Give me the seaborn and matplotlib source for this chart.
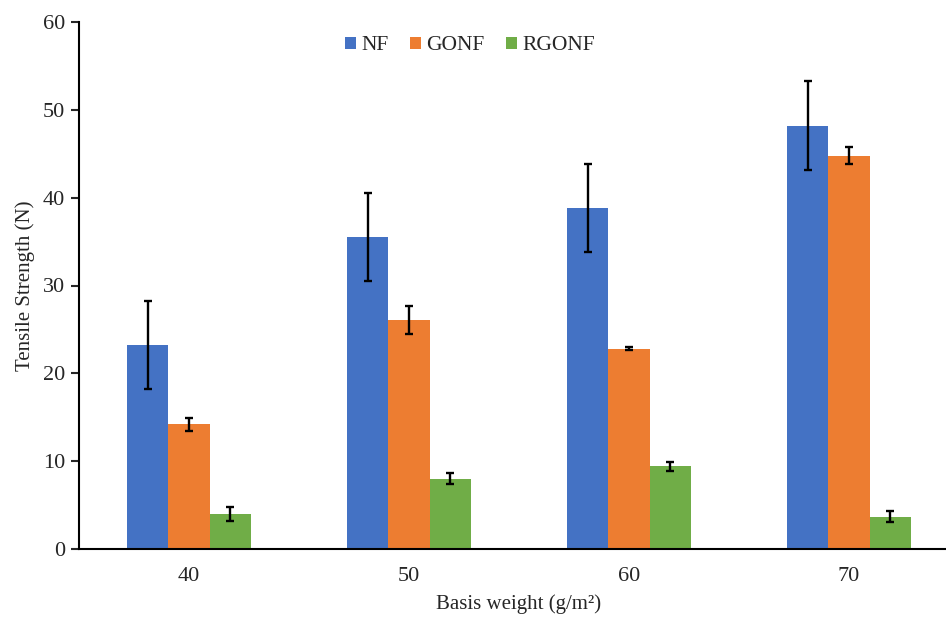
import numpy as np
import pandas as pd
import matplotlib.pyplot as plt
import seaborn as sns

# values
basis_weights = ['40', '50', '60', '70']
series_names = ['NF', 'GONF', 'RGONF']
nf_mean = [23.2, 35.5, 38.8, 48.2]
gonf_mean = [14.2, 26.1, 22.8, 44.8]
rgonf_mean = [4.0, 8.0, 9.4, 3.7]
nf_err = [5.0, 5.0, 5.0, 5.1]
gonf_err = [0.75, 1.6, 0.2, 1.0]
rgonf_err = [0.8, 0.6, 0.5, 0.65]

colors = ['#4472C4', '#ED7D31', '#70AD47']

sns.set_theme(style='white')
plt.rcParams['font.family'] = ['Liberation Serif', 'DejaVu Serif']

df = pd.DataFrame({
    'weight': basis_weights * 3,
    'series': [s for s in series_names for _ in basis_weights],
    'value': nf_mean + gonf_mean + rgonf_mean,
    'err': nf_err + gonf_err + rgonf_err,
})

fig = plt.figure(figsize=(9.46, 6.17), dpi=100)
ax = fig.add_axes([79 / 946, 68 / 617, 880 / 946, 527 / 617])

sns.barplot(data=df, x='weight', y='value', hue='series', order=basis_weights,
            hue_order=series_names, palette=colors, width=0.5625, gap=0,
            errorbar=None, saturation=1, linewidth=0, ax=ax, legend=True)

# error bars at the centres of the drawn bars
bars = [p for p in ax.patches if p.get_height() > 0][:len(df)]
xs = [b.get_x() + b.get_width() / 2 for b in bars]
hs = [b.get_height() for b in bars]
ax.errorbar(xs, hs, yerr=df['err'].to_numpy(), fmt='none', ecolor='black',
            elinewidth=1.7, capsize=3.2, capthick=1.7)

ax.set_ylim(0, 60)
ax.set_yticks(np.arange(0, 61, 10))
ax.set_xlim(-0.5, 3.5)
ax.set_xlabel('Basis weight (g/m²)', fontsize=15, labelpad=6)
ax.set_ylabel('Tensile Strength (N)', fontsize=15, labelpad=6)
ax.tick_params(axis='y', labelsize=16, length=6, width=1.5, left=True, direction='out', pad=4)
ax.tick_params(axis='x', labelsize=16, length=0, pad=13)
sns.despine(ax=ax)
for side in ['left', 'bottom']:
    ax.spines[side].set_linewidth(1.5)
    ax.spines[side].set_color('black')

ax.legend(loc='center', bbox_to_anchor=(470 / 946, 1 - 46 / 617),
          bbox_transform=fig.transFigure, ncol=3, frameon=False, fontsize=15.5,
          handlelength=0.5, handleheight=0.5, handletextpad=0.25, columnspacing=1.0)

fig.savefig('out.png', dpi=100)
